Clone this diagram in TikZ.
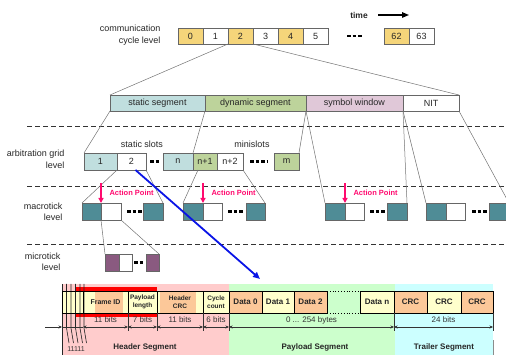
\documentclass[tikz,border=0pt]{standalone}
\usepackage{fontspec}
\setmainfont{Liberation Sans}
\usetikzlibrary{arrows.meta,calc}
\definecolor{gold}{HTML}{F5D57A}
\definecolor{statc}{HTML}{C0DEDE}
\definecolor{dync}{HTML}{BDD39B}
\definecolor{symc}{HTML}{E0C8D8}
\definecolor{tealc}{HTML}{4F8C96}
\definecolor{purp}{HTML}{8A5A80}
\definecolor{pinkbg}{HTML}{FFCCCC}
\definecolor{greenbg}{HTML}{CCFFCC}
\definecolor{cyanbg}{HTML}{CCFFFF}
\definecolor{lyel}{HTML}{FFFFCC}
\definecolor{peach}{HTML}{FCC899}
\definecolor{actc}{HTML}{FF0A6E}
\definecolor{bluec}{HTML}{0A14E6}
\begin{document}
\begin{tikzpicture}[x=1pt,y=-1pt,
  every node/.style={font=\fontsize{9}{11}\selectfont, text=black!85},
  cell/.style={draw=black!60, line width=0.6pt, anchor=north west, inner sep=0pt, outer sep=0pt, minimum height=16pt},
  mcell/.style={cell, minimum height=17pt},
  lvl/.style={anchor=east, align=right, font=\fontsize{9}{11.5}\selectfont},
  fan/.style={draw=black!55, line width=0.5pt},
  sep/.style={draw=black!80, line width=1pt, dash pattern=on 5pt off 3pt},
  dots3/.style={draw=black, line width=2.2pt, dash pattern=on 3.5pt off 2pt},
  act/.style={draw=actc, line width=1.6pt, -{Triangle[length=5pt,width=5pt]}},
  acttxt/.style={anchor=west, text=actc, font=\bfseries\fontsize{7.5}{9}\selectfont},
  fbox/.style={draw=black, line width=0.9pt, anchor=north west, inner sep=0pt, outer sep=0pt, minimum height=22pt, align=center, font=\bfseries\fontsize{8}{9}\selectfont},
  fsmall/.style={font=\bfseries\fontsize{6.5}{8}\selectfont},
  dim/.style={draw=black!80, line width=0.5pt},
  dtip/.style={{Stealth[length=3.5pt,width=3pt]}-{Stealth[length=3.5pt,width=3pt]}},
  dimtxt/.style={font=\fontsize{8}{9}\selectfont, text=black!80},
  segtxt/.style={font=\bfseries\fontsize{8}{9}\selectfont, text=black!85}
]
\useasboundingbox (0,0) rectangle (506,355);

% ---------- communication cycle level
\node[lvl] (lcomm) at (164,35) {communication\\cycle level};
\node[font=\bfseries\fontsize{8.5}{10}\selectfont] (time) at (359,15) {time};
\coordinate (tend) at (409,15);
\draw[line width=1.4pt, -{Triangle[length=7pt,width=5.5pt]}] ([xshift=7pt]time.east) -- (tend);

\node[cell, minimum width=25pt, fill=gold] (c0) at (178,28) {0};
\node[cell, minimum width=25pt] (c1) at (203,28) {1};
\node[cell, minimum width=25pt, fill=gold] (c2) at (228,28) {2};
\node[cell, minimum width=25pt] (c3) at (253,28) {3};
\node[cell, minimum width=25pt, fill=gold] (c4) at (278,28) {4};
\node[cell, minimum width=25pt] (c5) at (303,28) {5};
\node[cell, minimum width=25pt, fill=gold] (c62) at (384,28) {62};
\node[cell, minimum width=25pt] (c63) at (409,28) {63};
\draw[dots3] (347,36) -- (362,36);

% ---------- segments
\node[cell, minimum width=95pt, fill=statc] (ss) at (110,95) {static segment};
\node[cell, minimum width=101pt, fill=dync] (ds) at (205,95) {dynamic segment};
\node[cell, minimum width=97pt, fill=symc] (sw) at (306,95) {symbol window};
\node[cell, minimum width=56pt] (nit) at (403,95) {NIT};
\draw[fan] (c2.south west) -- (ss.north west);
\draw[fan] (c2.south east) -- (nit.north east);

% ---------- separators
\draw[sep] (27,127) -- (506,127);
\draw[sep] (27,187) -- (506,187);
\draw[sep] (27,245) -- (506,245);

% ---------- arbitration grid level
\node[lvl] (larb) at (68,159.5) {arbitration grid\\level};
\node (lstat) at (142,144) {static slots};
\node (lmini) at (252,144) {minislots};
\node[mcell, minimum width=33pt, fill=statc] (s1) at (84,153) {1};
\node[mcell, minimum width=29pt] (s2) at (117,153) {2};
\node[mcell, minimum width=30pt, fill=statc] (sn) at (163,153) {n};
\node[mcell, minimum width=24pt, fill=dync] (sn1) at (193,153) {n+1};
\node[mcell, minimum width=26pt] (sn2) at (217,153) {n+2};
\node[mcell, minimum width=25pt, fill=dync] (sm) at (274,153) {m};
\draw[dots3] (150,161.5) -- (160,161.5);
\draw[dots3] (250,161.5) -- (267,161.5);

% ---------- macrotick level
\node[lvl] (lmac) at (66,212) {macrotick\\level};
\node[mcell, minimum width=19pt, fill=tealc] (m1a) at (82,203) {};
\node[mcell, minimum width=20pt] (m1b) at (101,203) {};
\node[mcell, minimum width=20pt, fill=tealc] (m1c) at (143,203) {};
\draw[dots3] (127,211.5) -- (142,211.5);
\node[mcell, minimum width=20pt, fill=tealc] (m2a) at (183,203) {};
\node[mcell, minimum width=19pt] (m2b) at (203,203) {};
\node[mcell, minimum width=19pt, fill=tealc] (m2c) at (246,203) {};
\draw[dots3] (228,211.5) -- (243,211.5);
\node[mcell, minimum width=20pt, fill=tealc] (m3a) at (325,203) {};
\node[mcell, minimum width=19pt] (m3b) at (345,203) {};
\node[mcell, minimum width=20pt, fill=tealc] (m3c) at (387,203) {};
\draw[dots3] (370,211.5) -- (385,211.5);
\node[mcell, minimum width=20pt, fill=tealc] (m4a) at (426,203) {};
\node[mcell, minimum width=19pt] (m4b) at (446,203) {};
\node[mcell, minimum width=20pt, fill=tealc] (m4c) at (489,203) {};
\draw[dots3] (472,211.5) -- (487,211.5);

\draw[fan] (ss.south west) -- (s1.north west);
\draw[fan] (ss.south east) -- (sn.north east);
\draw[fan] (ds.south east) -- (sm.north east);
\draw[fan] (sw.south west) -- (m3a.north west);
\draw[fan] (sw.south east) -- (m3c.north east);
\draw[fan] (nit.south west) -- (m4a.north west);
\draw[fan] (nit.south east) -- (m4c.north east);
\draw[fan] (s2.south west) -- (m1a.north west);
\draw[fan] (s2.south east) -- (m1c.north east);
\draw[fan] ($(sn1.south west)+(5,0)$) -- (m2a.north west);
\draw[fan] (sn2.south east) -- (m2c.north east);

% action points
\draw[act] ($(m1a.north east)+(0,-20)$) -- (m1a.north east);
\node[acttxt] (ap1) at (106,193) {Action Point};
\draw[act] ($(m2a.north east)+(0,-20)$) -- (m2a.north east);
\node[acttxt] (ap2) at (208,193) {Action Point};
\draw[act] ($(m3a.north east)+(0,-20)$) -- (m3a.north east);
\node[acttxt] (ap3) at (350,193) {Action Point};

% ---------- microtick level
\node[lvl] (lmic) at (64,262) {microtick\\level};
\node[mcell, minimum width=14pt, fill=purp] (u1) at (105,254) {};
\node[mcell, minimum width=13pt] (u2) at (119,254) {};
\node[mcell, minimum width=13pt, fill=purp] (u3) at (146,254) {};
\draw[dots3] (134,262.5) -- (144,262.5);
\draw[fan] (m1b.south west) -- (u1.north west);
\draw[fan] (m1b.south east) -- (u3.north east);

% ---------- frame
\fill[pinkbg] (62,284) rectangle (229,355);
\fill[greenbg] (229,284) rectangle (395,355);
\fill[cyanbg] (395,284) rectangle (493,355);
\fill[lyel] (62,291) rectangle (327,313);
\fill[lyel] (360,291) rectangle (493,313);
\fill[peach] (95,291) rectangle (123,313);
\fill[peach] (160,291) rectangle (196,313);
\fill[peach] (229,291) rectangle (262,313);
\fill[peach] (294,291) rectangle (327,313);
\fill[peach] (394,291) rectangle (427,313);
\fill[peach] (461,291) rectangle (493,313);
\fill[red] (75,287) rectangle (157,291);
\fill[red] (75,313) rectangle (157,317);

% sync bits
\foreach \xx in {66.5,71,75.5,80,84}{
  \draw[black!85, line width=0.6pt] (\xx,284) -- (\xx,328) -- (\xx+2.5,343);
}
\draw[black!85, line width=0.8pt] (62,284) -- (62,355);
\node[dimtxt, font=\fontsize{7}{8}\selectfont] (ones) at (76,349) {11111};

\node[fbox, minimum width=21pt] (f0) at (62,291) {};
\node[fbox, minimum width=45pt, font=\bfseries\fontsize{7}{8}\selectfont] (fid) at (83,291) {Frame ID};
\node[fbox, minimum width=29pt, fsmall] (pl) at (128,291) {Payload\\length};
\node[fbox, minimum width=46pt, fsmall] (hcrc) at (157,291) {Header\\CRC};
\node[fbox, minimum width=26pt, fsmall] (cc) at (203,291) {Cycle\\count};
\node[fbox, minimum width=33pt] (d0) at (229,291) {Data 0};
\node[fbox, minimum width=32pt] (d1) at (262,291) {Data 1};
\node[fbox, minimum width=33pt] (d2) at (294,291) {Data 2};
\node[anchor=north west, inner sep=0pt, minimum width=33pt, minimum height=22pt] (dd) at (327,291) {};
\draw[black, line width=0.8pt, dotted] (dd.north west) -- (dd.north east);
\draw[black, line width=0.8pt, dotted] (dd.south west) -- (dd.south east);
\node[fbox, minimum width=34pt] (dn) at (360,291) {Data n};
\node[fbox, minimum width=33pt] (crc1) at (394,291) {CRC};
\node[fbox, minimum width=34pt] (crc2) at (427,291) {CRC};
\node[fbox, minimum width=32pt] (crc3) at (461,291) {CRC};

% dimension line
\coordinate (dstart) at (45,327);
\draw[dim, -{Stealth[length=3.5pt,width=3pt]}] (dstart) -- (f0.south west |- 0,327);
\draw[dim] (f0.south west |- 0,327) -- (fid.south west |- 0,327);
\draw[dim, dtip] (fid.south west |- 0,327) -- (fid.south east |- 0,327);
\draw[dim, dtip] (pl.south west |- 0,327) -- (pl.south east |- 0,327);
\draw[dim, dtip] (hcrc.south west |- 0,327) -- (hcrc.south east |- 0,327);
\draw[dim, dtip] (cc.south west |- 0,327) -- (cc.south east |- 0,327);
\draw[dim, dtip] (d0.south west |- 0,327) -- (dn.south east |- 0,327);
\draw[dim, dtip] (crc1.south west |- 0,327) -- (crc3.south east |- 0,327);
\foreach \n in {pl,hcrc,cc,d0,crc1}{
  \draw[dim] (\n.south west) -- ++(0,18);
}
\draw[dim] (crc3.south east) -- ++(0,18);
\draw[draw=black!45, line width=0.5pt] (493,340) -- (493,355);

\node[dimtxt] (b1) at (105.5,320) {11 bits};
\node[dimtxt] (b2) at (142.5,320) {7 bits};
\node[dimtxt] (b3) at (180,320) {11 bits};
\node[dimtxt] (b4) at (216,320) {6 bits};
\node[dimtxt] (b5) at (311.5,320) {0 ... 254 bytes};
\node[dimtxt] (b6) at (443.5,320) {24 bits};

\node[segtxt] (hs) at (145,347) {Header Segment};
\node[segtxt] (ps) at (315,347) {Payload Segment};
\node[segtxt] (ts) at (444,347) {Trailer Segment};

% blue arrow
\coordinate (bend) at (260,279);
\draw[draw=bluec, line width=1.8pt, -{Triangle[length=7pt,width=6pt]}] ($(s2.south)+(4,0)$) -- (bend);
\end{tikzpicture}
\end{document}
